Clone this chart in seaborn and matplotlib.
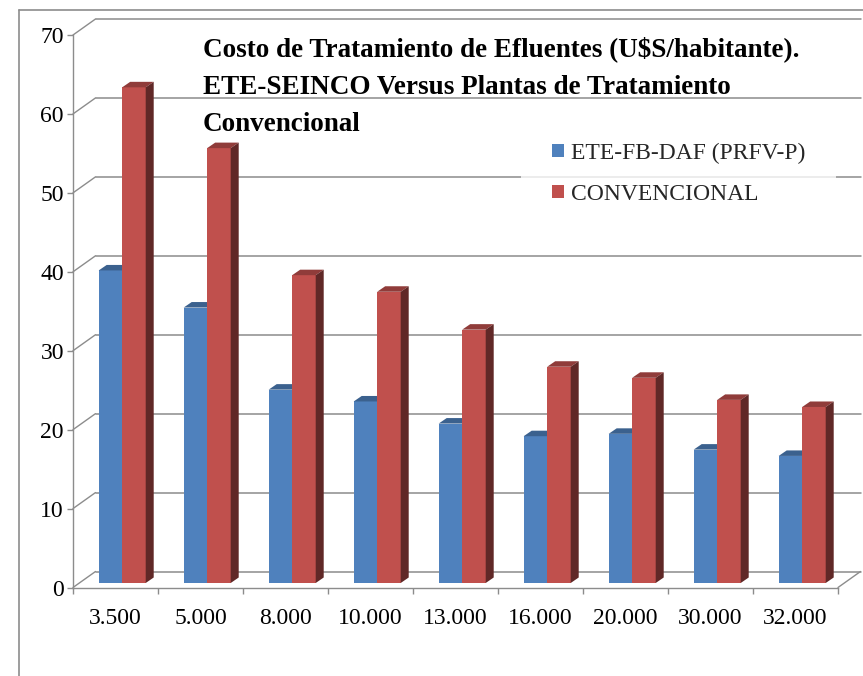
import numpy as np
import pandas as pd
import matplotlib
matplotlib.use("Agg")
import matplotlib.pyplot as plt
import seaborn as sns
from matplotlib.patches import Patch, Polygon
from matplotlib.lines import Line2D

# datos
poblacion = ["3.500", "5.000", "8.000", "10.000", "13.000", "16.000", "20.000", "30.000", "32.000"]
ete_fb_daf = [39.6, 34.9, 24.5, 23.0, 20.2, 18.6, 18.9, 16.9, 16.1]
convencional = [62.8, 55.1, 39.0, 36.9, 32.1, 27.4, 26.0, 23.2, 22.3]
series = ["ETE-FB-DAF (PRFV-P)", "CONVENCIONAL"]
titulo = [
    "Costo de Tratamiento de Efluentes (U$S/habitante).",
    "ETE-SEINCO Versus Plantas de Tratamiento",
    "Convencional",
]

AZUL = "#4F81BD"
ROJO = "#C0504D"
GRIS = "#8C8C8C"

df = pd.DataFrame({
    "poblacion": poblacion * 2,
    "serie": [series[0]] * len(poblacion) + [series[1]] * len(poblacion),
    "costo": ete_fb_daf + convencional,
})

sns.set_theme(style="white")
plt.rcParams["font.family"] = ["Liberation Serif", "DejaVu Serif"]

W, H = 863, 676
fig = plt.figure(figsize=(W / 100, H / 100), dpi=100)


def fx(px):
    return px / W


def fy(py):
    return 1 - py / H


# plano frontal de los ejes
x_left, x_right, y_zero, y_top = 73, 838, 587.5, 35
ax = fig.add_axes([fx(x_left), fy(y_zero), (x_right - x_left) / W, (y_zero - y_top) / H])

sns.barplot(data=df, x="poblacion", y="costo", hue="serie", palette=[AZUL, ROJO],
            width=0.553, gap=0, saturation=1, errorbar=None, linewidth=0,
            legend=False, ax=ax, zorder=3)
ax.set_xlim(-0.5, len(poblacion) - 0.5)
ax.set_ylim(0, 70)

# pixeles por unidad de datos
kx = (x_right - x_left) / len(poblacion)
ky = (y_zero - y_top) / 70

# profundidad: pared del fondo, plano de barras, espesor de barra
bx, by = 22.5 / kx, 16 / ky
ox, oy = 6.7 / kx, 4.5 / ky
dx, dy = 8 / kx, 5.5 / ky


def oscurecer(c, f):
    r, g, b, a = matplotlib.colors.to_rgba(c)
    return (r * f, g * f, b * f, 1)


for i, p in enumerate(list(ax.patches)):
    serie_z = 3 if i < len(poblacion) else 4
    x0 = p.get_x() + ox
    w = p.get_width()
    h = p.get_height()
    p.set_x(x0)
    p.set_y(oy)
    p.set_zorder(serie_z)
    p.set_clip_on(False)
    fc = p.get_facecolor()
    top = Polygon([(x0, oy + h), (x0 + dx, oy + h + dy), (x0 + w + dx, oy + h + dy), (x0 + w, oy + h)],
                  closed=True, facecolor=oscurecer(fc, 0.75), edgecolor="none",
                  zorder=serie_z + 0.1, clip_on=False)
    side = Polygon([(x0 + w, oy), (x0 + w + dx, oy + dy), (x0 + w + dx, oy + h + dy), (x0 + w, oy + h)],
                   closed=True, facecolor=oscurecer(fc, 0.5), edgecolor="none",
                   zorder=serie_z + 0.2, clip_on=False)
    ax.add_patch(top)
    ax.add_patch(side)

# pared del fondo y líneas de división
xa, xb = -0.5, len(poblacion) - 0.5
for v in range(0, 71, 10):
    ax.plot([xa + bx, xb + bx], [v + by, v + by], color=GRIS, lw=1.1, zorder=1, clip_on=False)
    ax.plot([xa, xa + bx], [v, v + by], color=GRIS, lw=1.0, zorder=1, clip_on=False)
ax.plot([xb, xb + bx], [0, by], color=GRIS, lw=1.0, zorder=1, clip_on=False)

# ejes
for s in ["top", "right"]:
    ax.spines[s].set_visible(False)
for s in ["left", "bottom"]:
    ax.spines[s].set_color(GRIS)
    ax.spines[s].set_linewidth(1.0)

ax.set_yticks(range(0, 71, 10))
ax.tick_params(axis="y", direction="out", length=4.5, width=1, color=GRIS,
               labelsize=17, labelcolor="black", pad=2, left=True)
ax.set_xticks(range(len(poblacion)))
ax.set_xticklabels(poblacion)
ax.set_xticks(np.arange(-0.5, len(poblacion), 1), minor=True)
ax.tick_params(axis="x", which="major", length=0, labelsize=17, labelcolor="black", pad=14.5)
ax.tick_params(axis="x", which="minor", direction="out", length=4.5, width=1, color=GRIS, bottom=True)
ax.set_xlabel("")
ax.set_ylabel("")

# título
for j, linea in enumerate(titulo):
    fig.text(fx(203), fy(49.5 + 37.5 * j), linea, fontsize=19.5, fontweight="bold",
             ha="left", va="center", color="black")

# leyenda
handles = [Patch(facecolor=AZUL, edgecolor="none"), Patch(facecolor=ROJO, edgecolor="none")]
leg = ax.legend(handles, series, loc="upper left", bbox_to_anchor=(fx(521), fy(112)),
                bbox_transform=fig.transFigure, frameon=True, fontsize=17,
                handlelength=0.5, handleheight=0.5, handletextpad=0.3,
                labelspacing=0.85, borderpad=1.3, borderaxespad=0, fancybox=False)
leg.get_frame().set_facecolor("white")
leg.get_frame().set_edgecolor("none")
leg.set_zorder(5)

# borde del área del gráfico
fig.add_artist(Line2D([fx(18.5), 1], [fy(9.5), fy(9.5)], color=GRIS, lw=1.2))
fig.add_artist(Line2D([fx(18.5), fx(18.5)], [0, fy(9.5)], color=GRIS, lw=1.2))

fig.savefig("out.png", dpi=100, facecolor="white")
